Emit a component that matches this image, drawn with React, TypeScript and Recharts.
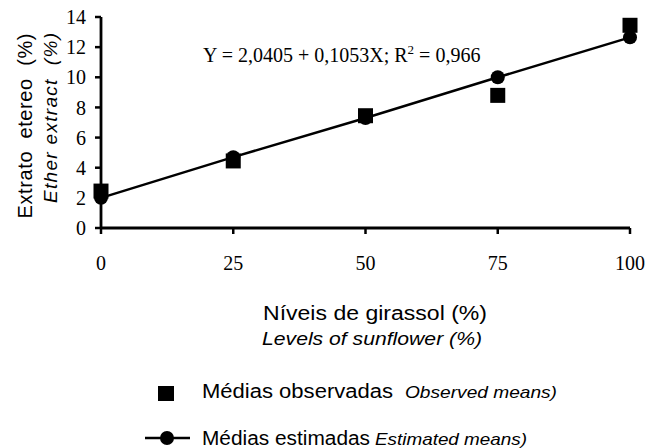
import React from "react";
import { ComposedChart, Line, Scatter, XAxis, YAxis } from "recharts";

if (typeof document !== "undefined") document.body.style.margin = "0";

const LEVELS = [0, 25, 50, 75, 100];
const OBSERVED = [2.45, 4.45, 7.45, 8.8, 13.45];
const ESTIMATED = [2.0, 4.7, 7.3, 10.0, 12.65];
const X_TICKS = [0, 25, 50, 75, 100];
const Y_TICKS = [0, 2, 4, 6, 8, 10, 12, 14];

const observedData = LEVELS.map((x, i) => ({ x, y: OBSERVED[i] }));
const estimatedData = LEVELS.map((x, i) => ({ x, y: ESTIMATED[i] }));

const SERIF = "'Liberation Serif', 'Times New Roman', serif";
const SANS = "'Liberation Sans', Arial, sans-serif";

const Square = (props: any) => {
  const { cx, cy } = props;
  if (cx == null || cy == null) return null;
  return <rect x={cx - 7.5} y={cy - 7.5} width={15} height={15} fill="#000" />;
};

export default function App() {
  return (
    <div style={{ position: "relative", width: 652, height: 448, background: "#fff" }}>
      <ComposedChart
        width={652}
        height={448}
        margin={{ top: 17, right: 22, bottom: 160, left: 41 }}
      >
        <XAxis
          dataKey="x"
          type="number"
          domain={[0, 100]}
          ticks={X_TICKS}
          height={60}
          axisLine={{ stroke: "#000", strokeWidth: 2.8 }}
          tickLine={{ stroke: "#000", strokeWidth: 2.5 }}
          tickSize={6}
          tickMargin={22}
          tick={{ fill: "#000", fontSize: 20, fontFamily: SERIF }}
        />
        <YAxis
          dataKey="y"
          type="number"
          domain={[0, 14]}
          ticks={Y_TICKS}
          width={60}
          axisLine={{ stroke: "#000", strokeWidth: 2.8 }}
          tickLine={{ stroke: "#000", strokeWidth: 2.5 }}
          tickSize={6}
          tickMargin={9}
          tick={{ fill: "#000", fontSize: 20, fontFamily: SERIF }}
        />
        <Line
          data={estimatedData}
          dataKey="y"
          type="linear"
          stroke="#000"
          strokeWidth={2.5}
          dot={{ r: 7, fill: "#000", stroke: "#000", strokeWidth: 0 }}
          isAnimationActive={false}
        />
        <Scatter
          data={observedData}
          dataKey="y"
          shape={<Square />}
          isAnimationActive={false}
        />
      </ComposedChart>

      <svg
        style={{ position: "absolute", left: 0, top: 0, pointerEvents: "none" }}
        width={652}
        height={448}
      >
        {/* regression equation */}
        <text x={203} y={62} fontFamily={SERIF} fontSize={20} fill="#000">
          Y = 2,0405 + 0,1053X; R
          <tspan fontSize={13} dy={-8}>2</tspan>
          <tspan dy={8}> = 0,966</tspan>
        </text>

        {/* y axis title */}
        <text
          transform="translate(32,126) rotate(-90)"
          textAnchor="middle"
          fontFamily={SANS}
          fontSize={20}
          textLength={185}
          lengthAdjust="spacing"
          style={{ whiteSpace: "pre" }}
          fill="#000"
        >
          {"Extrato  etereo  (%)"}
        </text>
        <text
          transform="translate(57,118) rotate(-90)"
          textAnchor="middle"
          fontFamily={SANS}
          fontStyle="italic"
          fontSize={19}
          textLength={170}
          lengthAdjust="spacing"
          style={{ whiteSpace: "pre" }}
          fill="#000"
        >
          {"Ether extract  (%)"}
        </text>

        {/* x axis title */}
        <text
          x={375}
          y={320}
          textAnchor="middle"
          fontFamily={SANS}
          fontSize={20}
          textLength={224}
          lengthAdjust="spacingAndGlyphs"
          fill="#000"
        >
          Níveis de girassol (%)
        </text>
        <text
          x={372}
          y={345}
          textAnchor="middle"
          fontFamily={SANS}
          fontStyle="italic"
          fontSize={18}
          textLength={220}
          lengthAdjust="spacingAndGlyphs"
          fill="#000"
        >
          Levels of sunflower (%)
        </text>

        {/* legend */}
        <rect x={158} y={386} width={16} height={15} fill="#000" />
        <line x1={145} y1={438} x2={190} y2={438} stroke="#000" strokeWidth={2.5} />
        <circle cx={167} cy={438} r={7} fill="#000" />

        <text
          x={202}
          y={398}
          fontFamily={SANS}
          fontSize={20}
          textLength={191}
          lengthAdjust="spacingAndGlyphs"
          fill="#000"
        >
          Médias observadas
        </text>
        <text
          x={405}
          y={398}
          fontFamily={SANS}
          fontStyle="italic"
          fontSize={17}
          textLength={152}
          lengthAdjust="spacingAndGlyphs"
          fill="#000"
        >
          Observed means)
        </text>
        <text
          x={202}
          y={445}
          fontFamily={SANS}
          fontSize={20}
          textLength={168}
          lengthAdjust="spacingAndGlyphs"
          fill="#000"
        >
          Médias estimadas
        </text>
        <text
          x={375}
          y={445}
          fontFamily={SANS}
          fontStyle="italic"
          fontSize={17}
          textLength={152}
          lengthAdjust="spacingAndGlyphs"
          fill="#000"
        >
          Estimated means)
        </text>
      </svg>
    </div>
  );
}
